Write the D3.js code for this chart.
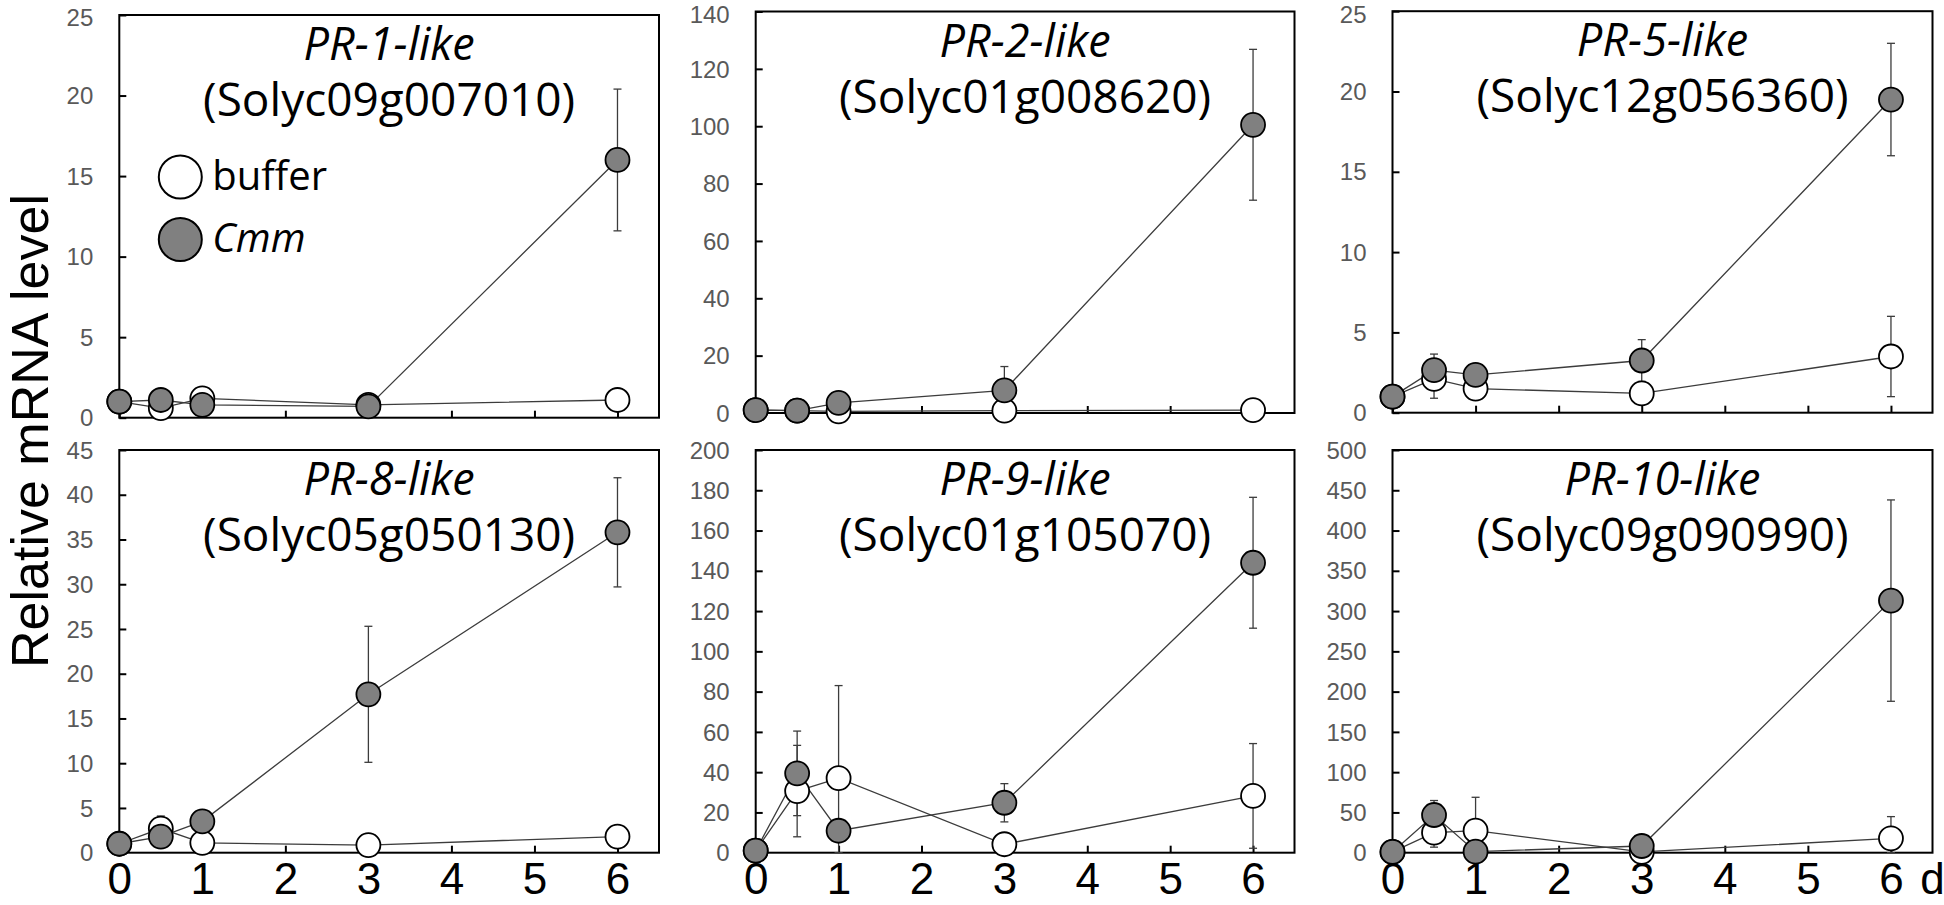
<!DOCTYPE html>
<html><head><meta charset="utf-8">
<script src="https://cdn.jsdelivr.net/npm/d3@7"></script>
<style>body{margin:0;background:#fff} svg{display:block;background:#fff}</style>
</head><body><svg id="chart" width="1944" height="905"></svg>
<script>
// ---------------- data ----------------
const days = [0, 0.5, 1, 3, 6];
const xTickValues = [0, 1, 2, 3, 4, 5, 6];
const xTickLabels = ["0", "1", "2", "3", "4", "5", "6"];
const geneNames = ["PR-1-like", "PR-2-like", "PR-5-like", "PR-8-like", "PR-9-like", "PR-10-like"];
const geneIds = ["(Solyc09g007010)", "(Solyc01g008620)", "(Solyc12g056360)", "(Solyc05g050130)", "(Solyc01g105070)", "(Solyc09g090990)"];
const yMaxes = [25, 140, 25, 45, 200, 500];
const yTickSteps = [5, 20, 5, 5, 20, 50];
const seriesNames = ["buffer", "Cmm"];

const pr1Buffer = [1.0, 0.6, 1.2, 0.8, 1.1];
const pr1BufferErr = [0.1, 0.2, 0.2, 0.1, 0.1];
const pr1Cmm = [1.0, 1.1, 0.8, 0.7, 16.0];
const pr1CmmErr = [0.1, 0.2, 0.1, 0.1, 4.4];

const pr2Buffer = [1.0, 0.8, 0.6, 0.8, 1.0];
const pr2BufferErr = [0, 0.2, 0.3, 0.3, 0.3];
const pr2Cmm = [1.0, 0.8, 3.5, 7.9, 100.5];
const pr2CmmErr = [0, 0.2, 0.8, 8.3, 26.3];

const pr5Buffer = [1.0, 2.1, 1.5, 1.2, 3.5];
const pr5BufferErr = [0, 1.2, 0.3, 0.5, 2.5];
const pr5Cmm = [1.0, 2.65, 2.35, 3.25, 19.5];
const pr5CmmErr = [0, 1.0, 0.3, 1.3, 3.5];

const pr8Buffer = [1.0, 2.7, 1.1, 0.85, 1.8];
const pr8BufferErr = [0, 1.4, 0.2, 0.2, 0.3];
const pr8Cmm = [1.0, 1.8, 3.5, 17.7, 35.8];
const pr8CmmErr = [0, 0.5, 0.5, 7.6, 6.1];

const pr9Buffer = [1, 30.6, 37, 4.2, 28.2];
const pr9BufferErr = [0, 22.7, 46, 1, 26];
const pr9Cmm = [1, 39.4, 10.9, 24.8, 144];
const pr9CmmErr = [0, 21, 3, 9.5, 32.5];

const pr10Buffer = [1, 24.9, 27.3, 1, 17.8];
const pr10BufferErr = [0, 18, 41.5, 1, 27];
const pr10Cmm = [1, 46.8, 1.3, 8.3, 313];
const pr10CmmErr = [0, 18, 1, 3, 125];

const bufferMeans = [pr1Buffer, pr2Buffer, pr5Buffer, pr8Buffer, pr9Buffer, pr10Buffer];
const bufferErrs = [pr1BufferErr, pr2BufferErr, pr5BufferErr, pr8BufferErr, pr9BufferErr, pr10BufferErr];
const cmmMeans = [pr1Cmm, pr2Cmm, pr5Cmm, pr8Cmm, pr9Cmm, pr10Cmm];
const cmmErrs = [pr1CmmErr, pr2CmmErr, pr5CmmErr, pr8CmmErr, pr9CmmErr, pr10CmmErr];

// ---------------- layout ----------------
const panelLeft = [119.3, 755.7, 1392.5, 119.3, 755.7, 1392.5];
const panelRight = [659, 1294.5, 1932.5, 659, 1294.5, 1932.5];
const panelTop = [15, 11.5, 11.2, 450, 450, 450];
const panelBottom = [417.7, 413, 412.7, 852.7, 852.7, 852.7];
const showXLabels = [false, false, false, true, true, true];

const svg = d3.select("#chart");
const tickFont = "'Liberation Sans', Arial, sans-serif";
const titleFont = "'Open Sans', 'Noto Sans', sans-serif";
const lineColor = "#3c3c3c";
const fills = ["#ffffff", "#808080"];

geneNames.forEach((name, i) => {
  const L = panelLeft[i], R = panelRight[i], T = panelTop[i], B = panelBottom[i];
  const x = d3.scaleLinear().domain([0, 6.5]).range([L, R]);
  const y = d3.scaleLinear().domain([0, yMaxes[i]]).range([B, T]);
  const g = svg.append("g");

  // frame
  g.append("rect").attr("x", L).attr("y", T).attr("width", R - L).attr("height", B - T)
    .attr("fill", "none").attr("stroke", "#000").attr("stroke-width", 2);

  // y axis
  const yTicks = d3.range(0, yMaxes[i] + yTickSteps[i] / 2, yTickSteps[i]);
  const yAx = g.append("g").attr("transform", `translate(${L},0)`)
    .call(d3.axisLeft(y).tickValues(yTicks).tickSize(-7).tickPadding(26).tickFormat(d3.format("d")));
  yAx.select(".domain").remove();
  yAx.selectAll(".tick line").attr("stroke", "#000").attr("stroke-width", 2);
  yAx.selectAll(".tick text").attr("font-family", tickFont).attr("font-size", 24).attr("fill", "#595959")
    .attr("dy", d => (d === yMaxes[i] && T < 20) ? "0.45em" : "0.34em");

  // x axis
  const xAx = g.append("g").attr("transform", `translate(0,${B})`)
    .call(d3.axisBottom(x).tickValues(xTickValues).tickSize(-7).tickPadding(10)
      .tickFormat((d, k) => showXLabels[i] ? xTickLabels[k] : ""));
  xAx.select(".domain").remove();
  xAx.selectAll(".tick line").attr("stroke", "#000").attr("stroke-width", 2);
  xAx.selectAll(".tick text").attr("font-family", tickFont).attr("font-size", 44).attr("fill", "#000");

  // titles
  g.append("text").attr("x", (L + R) / 2).attr("y", T + 45).attr("text-anchor", "middle")
    .attr("font-family", titleFont).attr("font-style", "italic").attr("font-size", 45).text(name);
  g.append("text").attr("x", (L + R) / 2).attr("y", T + 101).attr("text-anchor", "middle")
    .attr("font-family", titleFont).attr("font-size", 46).text(geneIds[i]);

  const series = [
    { means: bufferMeans[i], errs: bufferErrs[i], fill: fills[0] },
    { means: cmmMeans[i], errs: cmmErrs[i], fill: fills[1] }
  ];
  const line = d3.line().x((d, k) => x(days[k])).y(d => y(d));

  series.forEach(s => {
    g.append("path").attr("d", line(s.means)).attr("fill", "none")
      .attr("stroke", lineColor).attr("stroke-width", 1.3);
  });
  series.forEach(s => {
    const eg = g.append("g");
    s.means.forEach((m, k) => {
      if (!s.errs[k]) return;
      const cx = x(days[k]);
      const y1 = y(Math.max(0, m - s.errs[k])), y2 = y(m + s.errs[k]);
      eg.append("line").attr("x1", cx).attr("x2", cx).attr("y1", y1).attr("y2", y2)
        .attr("stroke", lineColor).attr("stroke-width", 1.3);
      [y1, y2].forEach(yy => eg.append("line").attr("x1", cx - 4).attr("x2", cx + 4)
        .attr("y1", yy).attr("y2", yy).attr("stroke", lineColor).attr("stroke-width", 1.3));
    });
  });
  series.forEach(s => {
    g.append("g").selectAll("circle").data(s.means).join("circle")
      .attr("cx", (d, k) => x(days[k])).attr("cy", d => y(d)).attr("r", 12)
      .attr("fill", s.fill).attr("stroke", "#000").attr("stroke-width", 1.8);
  });

  if (i === 0) {
    const lg = g.append("g");
    seriesNames.forEach((sn, k) => {
      lg.append("circle").attr("cx", L + 61).attr("cy", 177 + k * 62.5).attr("r", 21.5)
        .attr("fill", fills[k]).attr("stroke", "#000").attr("stroke-width", 2);
      lg.append("text").attr("x", L + 93).attr("y", 190 + k * 62)
        .attr("font-family", titleFont).attr("font-size", 40)
        .attr("font-style", k === 1 ? "italic" : "normal").text(sn);
    });
  }
  if (i === 5) {
    g.append("text").attr("x", R).attr("y", B + 41).attr("text-anchor", "middle")
      .attr("font-family", tickFont).attr("font-size", 44).text("d");
  }
});

svg.append("text").attr("transform", "translate(48,431) rotate(-90)").attr("text-anchor", "middle")
  .attr("font-family", tickFont).attr("font-size", 52).attr("fill", "#000").text("Relative mRNA level");
</script>
</body></html>
